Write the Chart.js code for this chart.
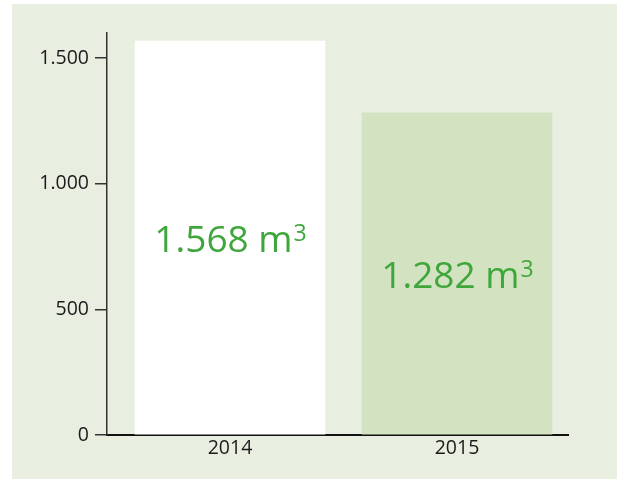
<!DOCTYPE html>
<html>
<head>
<meta charset="utf-8">
<script src="https://cdn.jsdelivr.net/npm/chart.js@4"></script>
<style>
  html, body { margin: 0; padding: 0; background: #fff; }
  #wrap { position: relative; width: 617px; height: 479px; }
  #panel { position: absolute; left: 12px; top: 4px; width: 605px; height: 475px; background: #e8efe0; }
  #volChart { position: absolute; left: 0; top: 0; }
</style>
</head>
<body>
<div id="wrap">
  <div id="panel"></div>
  <canvas id="volChart" width="617" height="479"></canvas>
</div>
<script>
const years = ['2014', '2015'];
const volumes = [1568, 1282];
const yTicks = [0, 500, 1000, 1500];
const barColors = ['#ffffff', '#d3e3c2'];

// German style thousands separator: 1568 -> 1.568
function fmt(v) {
    return String(v).replace(/\B(?=(\d{3})+(?!\d))/g, '.');
}

const labelGreen = '#3ea63b';

// Value labels in the middle of each bar, "m" with a small raised 3
const barLabels = {
    id: 'barLabels',
    afterDatasetsDraw(chart) {
        const c = chart.ctx;
        const meta = chart.getDatasetMeta(0);
        const bigFont = '37px "Open Sans"';
        const supFont = '23px "Open Sans"';
        c.save();
        c.fillStyle = labelGreen;
        c.textAlign = 'left';
        c.textBaseline = 'alphabetic';
        meta.data.forEach((bar, i) => {
            const main = fmt(volumes[i]) + ' m';
            c.font = bigFont;
            const w1 = c.measureText(main).width;
            c.font = supFont;
            const w2 = c.measureText('3').width;
            const left = bar.x - (w1 + w2) / 2;
            const base = (bar.y + bar.base) / 2 + 14;
            c.font = bigFont;
            c.fillText(main, left, base);
            c.font = supFont;
            c.fillText('3', left + w1 + 1, base - 11);
        });
        c.restore();
    }
};

const ctx = document.getElementById('volChart').getContext('2d');
const volChart = new Chart(ctx, {
    type: 'bar',
    data: {
        datasets: [{
            data: volumes.map((v, i) => ({ x: i, y: v })),
            backgroundColor: barColors,
            borderWidth: 0,
            barThickness: 190
        }]
    },
    plugins: [barLabels],
    options: {
        responsive: false,
        animation: false,
        layout: { padding: { left: 0, right: 49, top: 33, bottom: 0 } },
        plugins: {
            legend: { display: false },
            tooltip: { enabled: false }
        },
        scales: {
            x: {
                type: 'linear',
                min: -0.542,
                max: 1.489,
                offset: false,
                grid: { display: false, drawTicks: false },
                border: { display: true, color: '#111', width: 2 },
                ticks: {
                    color: '#1a1a1a',
                    font: { family: 'Open Sans', size: 19.5 },
                    padding: 2,
                    callback: (v) => years[v]
                },
                afterBuildTicks: (s) => { s.ticks = years.map((y, i) => ({ value: i })); },
                afterFit: (s) => { s.height = 44; }
            },
            y: {
                min: 0,
                max: 1600,
                grid: { drawOnChartArea: false, tickLength: 12, color: '#333', lineWidth: 1.5 },
                border: { display: true, color: '#333', width: 1.5 },
                ticks: {
                    color: '#1a1a1a',
                    font: { family: 'Open Sans', size: 19.5 },
                    padding: 6,
                    callback: (v) => fmt(v)
                },
                afterBuildTicks: (s) => { s.ticks = yTicks.map(v => ({ value: v })); },
                afterFit: (s) => { s.width = 107; }
            }
        }
    }
});
</script>
</body>
</html>
